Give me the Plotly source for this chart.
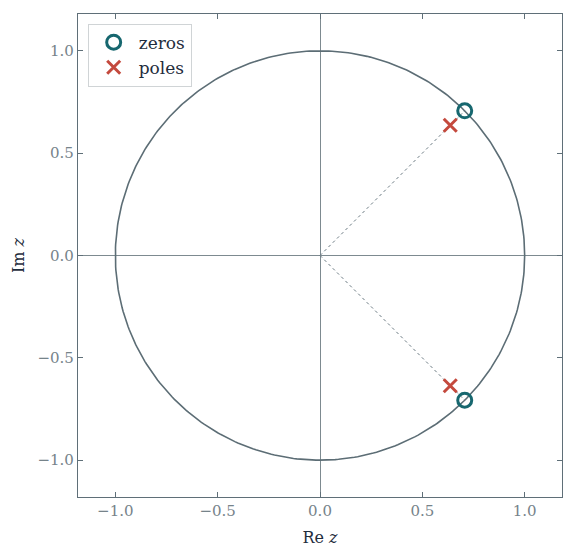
import plotly.graph_objects as go
import numpy as np

# zeros and poles of the filter
zeros_re = [0.7071, 0.7071]
zeros_im = [0.7071, -0.7071]
poles_re = [0.6364, 0.6364]
poles_im = [0.6364, -0.6364]

axis_col = '#5f6f78'
tick_col = '#76838a'
text_col = '#1f2d3d'
serif = 'DejaVu Serif'

theta = np.linspace(0, 2 * np.pi, 400)

fig = go.Figure()

# unit circle
fig.add_trace(go.Scatter(x=np.cos(theta), y=np.sin(theta), mode='lines',
                         line=dict(color='#5c6d75', width=1.6),
                         showlegend=False, hoverinfo='skip'))

# dotted rays from origin to the zeros
for zr, zi in zip(zeros_re, zeros_im):
    fig.add_trace(go.Scatter(x=[0, zr], y=[0, zi], mode='lines',
                             line=dict(color='#6b7a82', width=1, dash='dot'),
                             showlegend=False, hoverinfo='skip'))

fig.add_trace(go.Scatter(x=zeros_re, y=zeros_im, mode='markers', name='zeros',
                         marker=dict(symbol='circle-open', size=14, color='#17676f',
                                     line=dict(width=3, color='#17676f'))))
fig.add_trace(go.Scatter(x=poles_re, y=poles_im, mode='markers', name='poles',
                         marker=dict(symbol='x-thin-open', size=13, color='#c4493d',
                                     line=dict(width=3, color='#c4493d'))))

axis_common = dict(range=[-1.18, 1.18], showgrid=False, zeroline=True,
                   zerolinecolor='#7d8a90', zerolinewidth=1,
                   showline=True, linecolor=axis_col, linewidth=1.3, mirror='ticks',
                   ticks='inside', ticklen=5, tickcolor=axis_col,
                   tickvals=[-1.0, -0.5, 0.0, 0.5, 1.0],
                   ticktext=['\u22121.0', '\u22120.5', '0.0', '0.5', '1.0'],
                   tickfont=dict(color=tick_col, size=15, family=serif))

fig.update_xaxes(**axis_common, title=dict(text='Re <i>z</i>', font=dict(size=16, color=text_col, family=serif),
                                           standoff=12))
fig.update_yaxes(**axis_common, scaleanchor='x', scaleratio=1,
                 title=dict(text='Im <i>z</i>', font=dict(size=16, color=text_col, family=serif),
                            standoff=8))

fig.update_layout(
    width=576, height=560,
    margin=dict(l=70, r=22, t=6, b=71),
    paper_bgcolor='white', plot_bgcolor='white',
    font=dict(family=serif, color=text_col),
    legend=dict(x=0.02, y=0.98, xanchor='left', yanchor='top',
                bgcolor='white', bordercolor='#d0d4d6', borderwidth=1,
                itemwidth=40, font=dict(size=17, color=text_col, family=serif)),
)

fig.write_html("out.html")
